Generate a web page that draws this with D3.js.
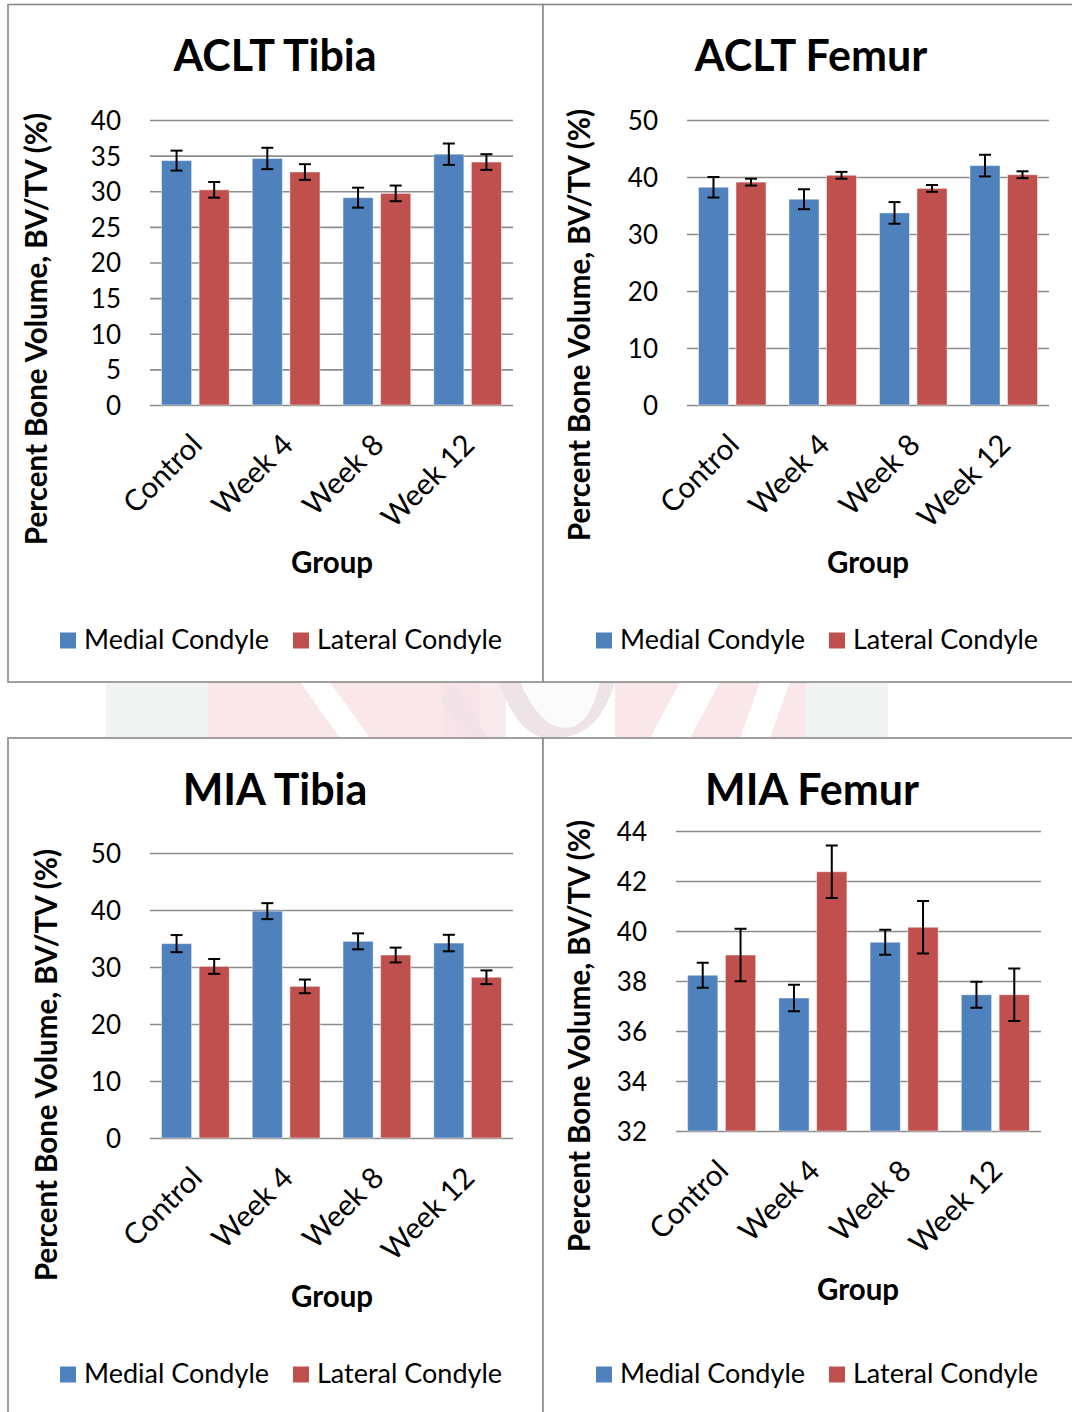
<!DOCTYPE html>
<html>
<head>
<meta charset="utf-8">
<script src="https://cdn.jsdelivr.net/npm/d3@7"></script>
<style>
  html, body { margin: 0; padding: 0; background: #ffffff; }
  svg { display: block; }
  text { font-family: Lato, "Open Sans", sans-serif; fill: #000; }
</style>
</head>
<body>
<svg id="chart" width="1072" height="1412"></svg>
<script>
// ---- data ----
const categories = ["Control", "Week 4", "Week 8", "Week 12"];
const seriesNames = ["Medial Condyle", "Lateral Condyle"];
const seriesColors = ["#4F81BD", "#C0504D"];

const acltTibiaMedial = [34.3, 34.6, 29.1, 35.2];
const acltTibiaMedialErr = [1.4, 1.5, 1.4, 1.5];
const acltTibiaLateral = [30.2, 32.7, 29.7, 34.1];
const acltTibiaLateralErr = [1.1, 1.1, 1.1, 1.1];
const acltTibiaTicks = [0, 5, 10, 15, 20, 25, 30, 35, 40];

const acltFemurMedial = [38.2, 36.1, 33.7, 42.0];
const acltFemurMedialErr = [1.8, 1.75, 1.9, 1.9];
const acltFemurLateral = [39.1, 40.3, 38.0, 40.4];
const acltFemurLateralErr = [0.6, 0.6, 0.6, 0.6];
const acltFemurTicks = [0, 10, 20, 30, 40, 50];

const miaTibiaMedial = [34.1, 39.8, 34.5, 34.2];
const miaTibiaMedialErr = [1.5, 1.4, 1.4, 1.45];
const miaTibiaLateral = [30.1, 26.6, 32.1, 28.2];
const miaTibiaLateralErr = [1.3, 1.2, 1.3, 1.2];
const miaTibiaTicks = [0, 10, 20, 30, 40, 50];

const miaFemurMedial = [38.23, 37.32, 39.55, 37.45];
const miaFemurMedialErr = [0.5, 0.53, 0.5, 0.52];
const miaFemurLateral = [39.04, 42.37, 40.15, 37.45];
const miaFemurLateralErr = [1.05, 1.05, 1.05, 1.05];
const miaFemurTicks = [32, 34, 36, 38, 40, 42, 44];

const titles = ["ACLT Tibia", "ACLT Femur", "MIA Tibia", "MIA Femur"];
const yAxisTitle = "Percent Bone Volume, BV/TV (%)";
const xAxisTitle = "Group";

// ---- panel layout ----
const panels = [
  { title: titles[0], medial: acltTibiaMedial, medialErr: acltTibiaMedialErr,
    lateral: acltTibiaLateral, lateralErr: acltTibiaLateralErr, ticks: acltTibiaTicks,
    frame: [8, 4.5, 535, 677.5], plot: [150, 513, 120, 405],
    titleX: 275, titleY: 71, yTitleX: 47, yTitleY: 329, groupX: 332, groupY: 573, legendY: 640 },
  { title: titles[1], medial: acltFemurMedial, medialErr: acltFemurMedialErr,
    lateral: acltFemurLateral, lateralErr: acltFemurLateralErr, ticks: acltFemurTicks,
    frame: [543, 4.5, 545, 677.5], plot: [687, 1049, 120, 405],
    titleX: 811, titleY: 71, yTitleX: 590, yTitleY: 325, groupX: 868, groupY: 573, legendY: 640, legendX: 536 },
  { title: titles[2], medial: miaTibiaMedial, medialErr: miaTibiaMedialErr,
    lateral: miaTibiaLateral, lateralErr: miaTibiaLateralErr, ticks: miaTibiaTicks,
    frame: [8, 738, 535, 700], plot: [150, 513, 853, 1138],
    titleX: 275, titleY: 805, yTitleX: 57, yTitleY: 1065, groupX: 332, groupY: 1307, legendY: 1374 },
  { title: titles[3], medial: miaFemurMedial, medialErr: miaFemurMedialErr,
    lateral: miaFemurLateral, lateralErr: miaFemurLateralErr, ticks: miaFemurTicks,
    frame: [543, 738, 545, 700], plot: [676, 1041, 831, 1131],
    titleX: 812, titleY: 805, yTitleX: 590, yTitleY: 1036, groupX: 858, groupY: 1300, legendY: 1374, legendX: 536 }
];

const svg = d3.select("#chart");
svg.append("rect").attr("width", 1072).attr("height", 1412).attr("fill", "#ffffff");

// faint background emblem showing between the panel rows
const band = svg.append("g").attr("opacity", 0.85);
band.append("rect").attr("x", 106).attr("y", 682).attr("width", 102).attr("height", 56).attr("fill", "#f0f1f1");
band.append("polygon").attr("points", "208,682 480,682 480,738 208,738").attr("fill", "#f9e3e7");
band.append("polygon").attr("points", "300,682 330,682 370,738 340,738").attr("fill", "#ffffff");
band.append("polygon").attr("points", "440,700 455,682 488,738 470,738").attr("fill", "#e6e2e3");
band.append("rect").attr("x", 444).attr("y", 682).attr("width", 62).attr("height", 56).attr("fill", "#f6dde2").attr("opacity", 0.7);
band.append("path").attr("d", "M499,682 Q520,745 560,738 Q600,735 615,682 Z").attr("fill", "#ecdfe2");
band.append("path").attr("d", "M520,682 Q540,728 565,728 Q590,728 600,682 Z").attr("fill", "#fbfbfb");
band.append("polygon").attr("points", "615,682 806,682 806,738 615,738").attr("fill", "#f9e3e7");
band.append("polygon").attr("points", "680,682 720,682 690,738 650,738").attr("fill", "#ffffff");
band.append("polygon").attr("points", "760,682 790,682 770,738 740,738").attr("fill", "#ffffff");
band.append("rect").attr("x", 806).attr("y", 682).attr("width", 82).attr("height", 56).attr("fill", "#f0f1f1");

panels.forEach(p => drawPanel(p));

function drawPanel(p) {
  const g = svg.append("g");
  const [fx, fy, fw, fh] = p.frame;
  g.append("rect").attr("x", fx).attr("y", fy).attr("width", fw).attr("height", fh)
    .attr("fill", "#ffffff").attr("stroke", "#8a8a8a").attr("stroke-width", 1.6);

  const [px0, px1, pyTop, pyBottom] = p.plot;
  const y = d3.scaleLinear().domain(d3.extent(p.ticks)).range([pyBottom, pyTop]);
  const x0 = d3.scaleBand().domain(categories).range([px0, px1]).paddingInner(0).paddingOuter(0);
  const bw = x0.bandwidth();
  const x1 = d3.scaleBand().domain(seriesNames).range([bw * 0.127, bw * 0.873]).paddingInner(0.2).paddingOuter(0);

  // gridlines (axis ticks stretched across the plot)
  const yAxis = d3.axisLeft(y).tickValues(p.ticks).tickSize(-(px1 - px0)).tickFormat(d3.format("d")).tickPadding(29);
  const ga = g.append("g").attr("transform", `translate(${px0},0)`).call(yAxis);
  ga.select(".domain").remove();
  ga.selectAll(".tick line").attr("stroke", "#8c8c8c").attr("stroke-width", 1.6);
  ga.selectAll(".tick text").attr("font-size", 26).attr("fill", "#000")
    .style("font-family", "Lato, sans-serif").attr("dy", "0.36em");

  // bars
  const rows = categories.map((c, i) => ({
    cat: c,
    vals: [
      { s: seriesNames[0], v: p.medial[i], e: p.medialErr[i], color: seriesColors[0] },
      { s: seriesNames[1], v: p.lateral[i], e: p.lateralErr[i], color: seriesColors[1] }
    ]
  }));
  const base = y.domain()[0];
  const grp = g.selectAll(".cat").data(rows).join("g")
    .attr("transform", d => `translate(${x0(d.cat)},0)`);
  grp.selectAll("rect").data(d => d.vals).join("rect")
    .attr("x", d => x1(d.s)).attr("width", x1.bandwidth())
    .attr("y", d => y(d.v)).attr("height", d => y(base) - y(d.v))
    .attr("fill", d => d.color)
    .attr("stroke", "rgba(255,255,255,0.45)").attr("stroke-width", 1);

  // error bars
  const cap = 6;
  const eb = grp.selectAll(".err").data(d => d.vals).join("g")
    .attr("transform", d => `translate(${x1(d.s) + x1.bandwidth() / 2},0)`)
    .attr("stroke", "#000").attr("stroke-width", 2);
  eb.append("line").attr("x1", 0).attr("x2", 0).attr("y1", d => y(d.v + d.e)).attr("y2", d => y(d.v - d.e));
  eb.append("line").attr("x1", -cap).attr("x2", cap).attr("y1", d => y(d.v + d.e)).attr("y2", d => y(d.v + d.e));
  eb.append("line").attr("x1", -cap).attr("x2", cap).attr("y1", d => y(d.v - d.e)).attr("y2", d => y(d.v - d.e));

  // category labels, rotated
  g.selectAll(".xl").data(categories).join("text")
    .attr("transform", d => `translate(${x0(d) + bw / 2 - 7},${pyBottom + 26}) rotate(-45)`)
    .attr("text-anchor", "end").attr("dy", "0.75em")
    .attr("font-size", 29.5).text(d => d);

  // titles
  g.append("text").attr("x", p.titleX).attr("y", p.titleY).attr("text-anchor", "middle")
    .attr("font-size", 43).attr("font-weight", 700).text(p.title);
  g.append("text").attr("transform", `translate(${p.yTitleX},${p.yTitleY}) rotate(-90)`)
    .attr("text-anchor", "middle").attr("font-size", 29.5).attr("font-weight", 700).text(yAxisTitle);
  g.append("text").attr("x", p.groupX).attr("y", p.groupY).attr("text-anchor", "middle")
    .attr("font-size", 29.5).attr("font-weight", 700).text(xAxisTitle);

  // legend
  const lx = p.legendX !== undefined ? p.legendX : 0;
  const legendPos = [60, 293];
  seriesNames.forEach((s, i) => {
    g.append("rect").attr("x", lx + legendPos[i]).attr("y", p.legendY - 7.5).attr("width", 16).attr("height", 16)
      .attr("fill", seriesColors[i]);
    g.append("text").attr("x", lx + legendPos[i] + 24).attr("y", p.legendY + 9)
      .attr("font-size", 27).text(s);
  });
}
</script>
</body>
</html>
